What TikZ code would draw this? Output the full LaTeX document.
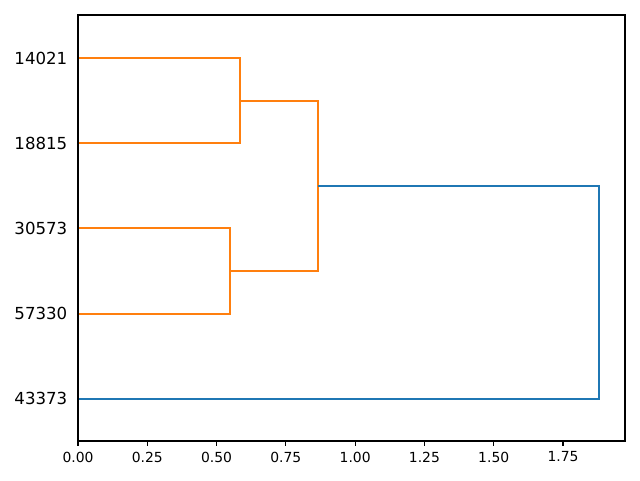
\documentclass[tikz,border=0pt]{standalone}
\usepackage{fontspec}
\setmainfont{DejaVu Sans}
\definecolor{mplorange}{HTML}{FF7F0E}
\definecolor{mplblue}{HTML}{1F77B4}
\begin{document}
\begin{tikzpicture}[x=1pt,y=-1pt,
  link/.style={line width=2.08pt, line cap=butt, line join=miter},
  frame/.style={line width=1.1pt},
  leaflabel/.style={anchor=east, inner sep=0pt, font=\fontsize{16.6}{20}\selectfont},
  ticklabel/.style={anchor=north, inner sep=0pt, font=\fontsize{13.9}{16}\selectfont},
  tickmark/.style={line width=1.1pt}]
\useasboundingbox (0,0) rectangle (640,480);
\def\xs{277.14}
\coordinate (L1) at (78,58);
\coordinate (L2) at (78,143.2);
\coordinate (L3) at (78,228.4);
\coordinate (L4) at (78,313.6);
\coordinate (L5) at (78,398.8);
% links
\draw[link, mplorange] (L1) -- (240.1,58) -- (240.1,143.2) -- (L2);
\draw[link, mplorange] (L3) -- (230.2,228.4) -- (230.2,313.6) -- (L4);
\draw[link, mplorange] (240.1,100.6) -- (318,100.6) -- (318,271) -- (230.2,271);
\draw[link, mplblue] (318,185.8) -- (599,185.8) -- (599,398.8) -- (L5);
% frame
\draw[frame] (78,15) rectangle (625,441);
% leaf labels
\node[leaflabel] (t1) at (67.5,58) {14021};
\node[leaflabel] (t2) at (67.5,143.2) {18815};
\node[leaflabel] (t3) at (67.5,228.4) {30573};
\node[leaflabel] (t4) at (67.5,313.6) {57330};
\node[leaflabel] (t5) at (67.5,398.8) {43373};
% x ticks
\foreach \v/\lab [count=\i] in {0/0.00,0.25/0.25,0.5/0.50,0.75/0.75,1/1.00,1.25/1.25,1.5/1.50,1.75/1.75}{
  \draw[tickmark] ({78+\v*\xs},441) -- ({78+\v*\xs},446);
  \node[ticklabel] (x\i) at ({78+\v*\xs},451.5) {\lab};
}
\end{tikzpicture}
\end{document}
